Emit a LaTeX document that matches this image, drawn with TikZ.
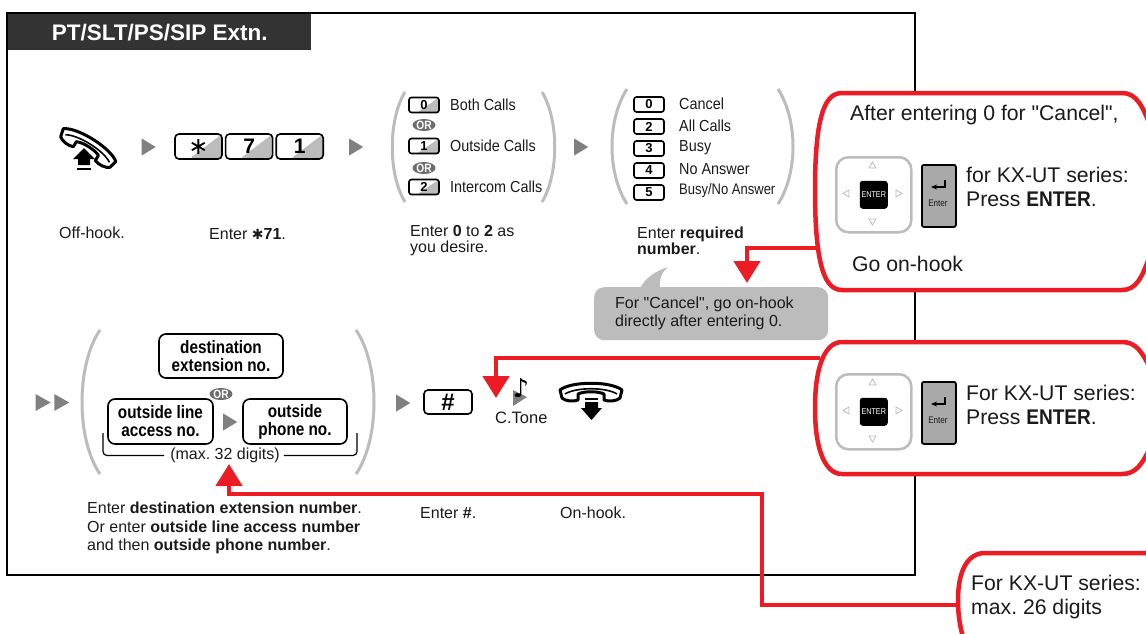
\documentclass[tikz,border=0pt]{standalone}
\usepackage{fontspec}
\setmainfont{Liberation Sans}
\newfontfamily\plainfont{Liberation Sans}
\newfontfamily\condfont[FakeStretch=0.85]{Liberation Sans}
\newfontfamily\narrowfont[FakeStretch=0.9]{Liberation Sans}
\newfontfamily\symfont{DejaVu Sans}
\usepackage{tikz}
\usetikzlibrary{arrows.meta, positioning, shapes.geometric}
\definecolor{redline}{HTML}{ED1C24}
\definecolor{stepgray}{HTML}{808080}
\definecolor{softgray}{HTML}{BCBCBC}
\definecolor{titlegray}{HTML}{333333}
\definecolor{inktext}{HTML}{1A1A1A}
\newcommand{\fs}[2]{\fontsize{#1}{#2}\selectfont}
\newcommand{\dq}{{\plainfont"}}
\newcommand{\enterword}{{\narrowfont\bfseries ENTER}}
\AtBeginDocument{\frenchspacing}

\tikzset{
  handset/.pic={
    \draw[line width=3pt,fill=white,line join=round]
      (-29,7) -- (-31,-1) .. controls (-20,-10) and (20,-10) .. (31,-1) -- (29,7)
      .. controls (26,10) and (18,11) .. (13,9) -- (13,3) .. controls (7,0) and (-7,0) .. (-13,3)
      -- (-13,9) .. controls (-18,11) and (-26,10) .. (-29,7) -- cycle;
    \draw[line width=1.6pt] (-26,3) .. controls (-15,-4) and (15,-4) .. (26,3);
  },
  enterpad/.pic={
    \node[draw=softgray,line width=2.5pt,fill=white,rounded corners=12pt,minimum size=75pt,inner sep=0pt,anchor=north west] (-nav) at (0,0) {};
    \node[fill=black,rounded corners=3pt,minimum size=28pt,inner sep=0pt,text=white,font=\condfont\fs{8.5}{9}] (-ok) at (-nav.center) {ENTER};
    \draw[softgray,line width=.8pt] (37.5,6) -- (34,12) -- (41,12) -- cycle
      (37.5,69) -- (34,63) -- (41,63) -- cycle
      (8,37.5) -- (14,34) -- (14,41) -- cycle
      (67,37.5) -- (61,34) -- (61,41) -- cycle;
    \node[draw=black,line width=1.8pt,fill=softgray!90!black,rounded corners=2pt,minimum width=34pt,minimum height=62pt,inner sep=0pt,anchor=north west] (-key) at (86,8) {};
    \draw[line width=1.2pt,-{Stealth[length=6pt,width=5pt]}] (110,24) |- (96,31);
    \node[font=\condfont\fs{9.5}{10}] (-lbl) at (103,47) {Enter};
  }
}

\begin{document}
\begin{tikzpicture}[x=1pt,y=-1pt,text=inktext,
    every node/.append style={inner sep=0pt},
    txt/.style={anchor=west,align=left,font=\fs{16}{16}},
    optxt/.style={anchor=west,font=\narrowfont\fs{16}{16}},
    bigtxt/.style={anchor=west,align=left,font=\fs{21.2}{24.5}},
    stepmark/.style={isosceles triangle,isosceles triangle stretches,fill=stepgray,minimum height=14pt,minimum width=17pt},
    bigkey/.style={draw=black,line width=1.6pt,rounded corners=4pt,minimum width=47pt,minimum height=25pt,text=black,font=\bfseries\fs{21}{22},
      path picture={\fill[softgray] (path picture bounding box.south west) ++(14pt,0pt) -- (path picture bounding box.north east) -- (path picture bounding box.south east) -- cycle;}},
    minikey/.style={draw=black,line width=1.6pt,rounded corners=2.5pt,minimum width=30pt,minimum height=15pt,text=black,font=\bfseries\fs{13}{14}},
    shadekey/.style={minikey,path picture={\fill[softgray] (path picture bounding box.south west) ++(8pt,0pt) -- (path picture bounding box.north east) -- (path picture bounding box.south east) -- cycle;}},
    orpill/.style={ellipse,fill=stepgray!85!black,minimum width=23pt,minimum height=11pt,text=white,font=\condfont\bfseries\fs{12}{12}},
    wordkey/.style={draw=black,line width=1.6pt,rounded corners=7pt,align=center,text=black,font=\condfont\bfseries\fs{18}{18}},
    bracket/.style={softgray,line width=3pt},
    connector/.style={redline,line width=4.5pt,-{Triangle[length=22pt,width=26pt]}},
    callout/.style={redline,line width=4.5pt,fill=white}]

  \clip (0,0) rectangle (1146,633);

  \draw[line width=2.5pt,black] (7,13) rectangle (915,575);
  \node[fill=titlegray,minimum width=303pt,minimum height=36pt,anchor=north west,text=white,font=\bfseries\fs{22.5}{23}] (title) at (8,14) {PT/SLT/PS/SIP Extn.};

  \pic at (89,146) [rotate=-32] {handset};
  \fill[black] (84,148) -- (95,159) -- (90,159) -- (90,165) -- (78,165) -- (78,159) -- (73,159) -- cycle;
  \fill[black] (77,167.5) rectangle (91,169.5);
  \node[stepmark] (arr_a) at (146.5,147) {};
  \node[bigkey] (key_s) at (198.5,146.5) {\symfont\mdseries\fontsize{24}{24}\selectfont\raisebox{-4pt}{∗}};
  \node[bigkey] (key_7) [right=2pt of key_s] {7};
  \node[bigkey] (key_1) [right=2pt of key_7] {1};
  \node[stepmark] (arr_b) at (354,147) {};

  \draw[bracket] (405,92) .. controls (388,120) and (388,174) .. (405,202);
  \draw[bracket] (542,92) .. controls (559,120) and (559,174) .. (542,202);
  \node[shadekey] (call_0) at (424,105) {0};
  \node[orpill] (or_a) at (424,125) {OR};
  \node[shadekey] (call_1) at (424,146) {1};
  \node[orpill] (or_b) at (424,168) {OR};
  \node[shadekey] (call_2) at (424,187) {2};
  \node[optxt] (lbl_both) at (450,105) {Both Calls};
  \node[optxt] (lbl_out) at (450,146) {Outside Calls};
  \node[optxt] (lbl_int) at (450,187) {Intercom Calls};
  \node[stepmark] (arr_c) at (579,147) {};

  \draw[bracket] (627,89) .. controls (607,120) and (607,173) .. (627,204);
  \draw[bracket] (778,89) .. controls (798,120) and (798,173) .. (778,204);
  \node[minikey] (num_0) at (649,104.5) {0};
  \node[minikey] (num_2) at (649,126.5) {2};
  \node[minikey] (num_3) at (649,148.5) {3};
  \node[minikey] (num_4) at (649,170.5) {4};
  \node[minikey] (num_5) at (649,192.5) {5};
  \node[optxt] (lbl_cancel) at (679,104) {Cancel};
  \node[optxt] (lbl_all) at (679,126) {All Calls};
  \node[optxt] (lbl_busy) at (679,148) {Busy};
  \node[optxt] (lbl_no) at (679,169) {No Answer};
  \node[optxt,font=\condfont\fs{15.3}{16}] (lbl_bna) at (679,191) {Busy/No Answer};

  \node[txt] (txt_off) at (59,233) {Off-hook.};
  \node[txt] (txt_star) at (209,234) {Enter {\symfont\fs{14}{16}✱}\textbf{71}.};
  \node[txt] (txt_zero) at (410,241) {Enter \textbf{0} to \textbf{2} as\\you desire.};
  \node[txt] (txt_req) at (637,241) {Enter \textbf{required}\\\textbf{number}.};

  \fill[softgray] (640,288) .. controls (646,277) and (656,271) .. (668,267) .. controls (661,273) and (659,280) .. (660,288) -- cycle;
  \node[fill=softgray,rounded corners=10pt,minimum width=234pt,minimum height=53pt,anchor=north west] (note) at (594,287) {};
  \node[txt,font=\fs{16}{18}] (note_txt) at (615,313) {For \dq Cancel\dq, go on-hook\\directly after entering 0.};

  \node[stepmark,minimum height=15pt] (arr_d) at (40.5,402.5) {};
  \node[stepmark,minimum height=15pt] (arr_e) [right=3pt of arr_d] {};
  \draw[bracket] (100,330) .. controls (76,365) and (76,439) .. (100,474);
  \draw[bracket] (356,330) .. controls (380,365) and (380,439) .. (356,474);
  \node[wordkey,minimum width=124pt,minimum height=44pt] (dest) at (221,356) {destination\\extension no.};
  \node[orpill] (or_c) at (221,394) {OR};
  \node[wordkey,minimum width=105pt,minimum height=45pt] (access) at (160.5,421.5) {outside line\\access no.};
  \node[stepmark] (arr_f) at (228,422) {};
  \node[wordkey,minimum width=104pt,minimum height=45pt] (phone) at (295,421.5) {outside\\phone no.};
  \node[txt,anchor=center] (max) at (225,455.5) {(max. 32 digits)};
  \draw[line width=1.2pt,rounded corners=4pt] (max.west) ++(-6pt,0pt) -| (103,433);
  \draw[line width=1.2pt,rounded corners=4pt] (max.east) ++(4pt,0pt) -| (357,433);

  \node[txt,font=\fs{16}{18.5}] (txt_dest) at (87,528) {Enter \textbf{destination extension number}.\\Or enter \textbf{outside line access number}\\and then \textbf{outside phone number}.};

  \node[stepmark] (arr_g) at (401,403) {};
  \node[bigkey,minimum width=48pt,minimum height=24pt,path picture={},font=\bfseries\fs{24}{24}] (key_h) at (448,402) {\#};
  \fill[stepgray] (513,390) -- (527,397) -- (513,406) -- cycle;
  \node[font=\symfont\fs{26}{26},text=black] (tone_note) at (521,388) {♪};
  \node[txt,font=\fs{16.5}{17}] (tone_lbl) at (495,418) {C.Tone};
  \pic at (591,391) {handset};
  \fill[black] (585,398) rectangle (598,400);
  \fill[black] (585,402) -- (598,402) -- (598,408) -- (602,408) -- (591.5,420) -- (581,408) -- (585,408) -- cycle;
  \node[txt] (txt_hash) at (420,513) {Enter \textbf{\#}.};
  \node[txt] (txt_on) at (560,513) {On-hook.};

  \coordinate (tip_a) at (747,283);
  \coordinate (tip_b) at (496,398);
  \coordinate (tip_c) at (229,464);
  \coordinate (call_a) at (820,248);
  \coordinate (call_b) at (820,358);
  \coordinate (call_c) at (962,605);
  \draw[connector] (call_a) -| (tip_a);
  \draw[connector] (call_b) -| (tip_b);
  \draw[connector] (call_c) -| (762,494) -| (tip_c);

  \draw[callout] (842,93) -- (1122,93) .. controls (1136,93) and (1142,105) .. (1150,125) -- (1150,255)
    .. controls (1142,278) and (1136,290) .. (1122,290) -- (842,290)
    .. controls (826,290) and (815,270) .. (815,190) .. controls (815,112) and (826,93) .. (842,93) -- cycle;
  \draw[callout] (842,342) -- (1122,342) .. controls (1136,342) and (1142,352) .. (1150,368) -- (1150,448)
    .. controls (1142,464) and (1136,474) .. (1122,474) -- (842,474)
    .. controls (826,474) and (815,452) .. (815,408) .. controls (815,364) and (826,342) .. (842,342) -- cycle;
  \draw[callout] (1150,553) -- (985,553) .. controls (968,553) and (958,570) .. (958,600) .. controls (958,615) and (960,628) .. (964,640) -- (1150,640);

  \node[bigtxt] (a_top) at (850,115) {After entering 0 for \dq Cancel\dq,};
  \pic (pad_a) at (835,156) {enterpad};
  \node[bigtxt] (a_mid) at (966,187) {for KX-UT series:\\Press \enterword.};
  \node[bigtxt] (a_end) at (852,264) {Go on-hook};
  \pic (pad_b) at (835,373) {enterpad};
  \node[bigtxt] (b_mid) at (966,405) {For KX-UT series:\\Press \enterword.};
  \node[bigtxt] (c_mid) at (971,597) {For KX-UT series:\\max. 26 digits};
\end{tikzpicture}
\end{document}
